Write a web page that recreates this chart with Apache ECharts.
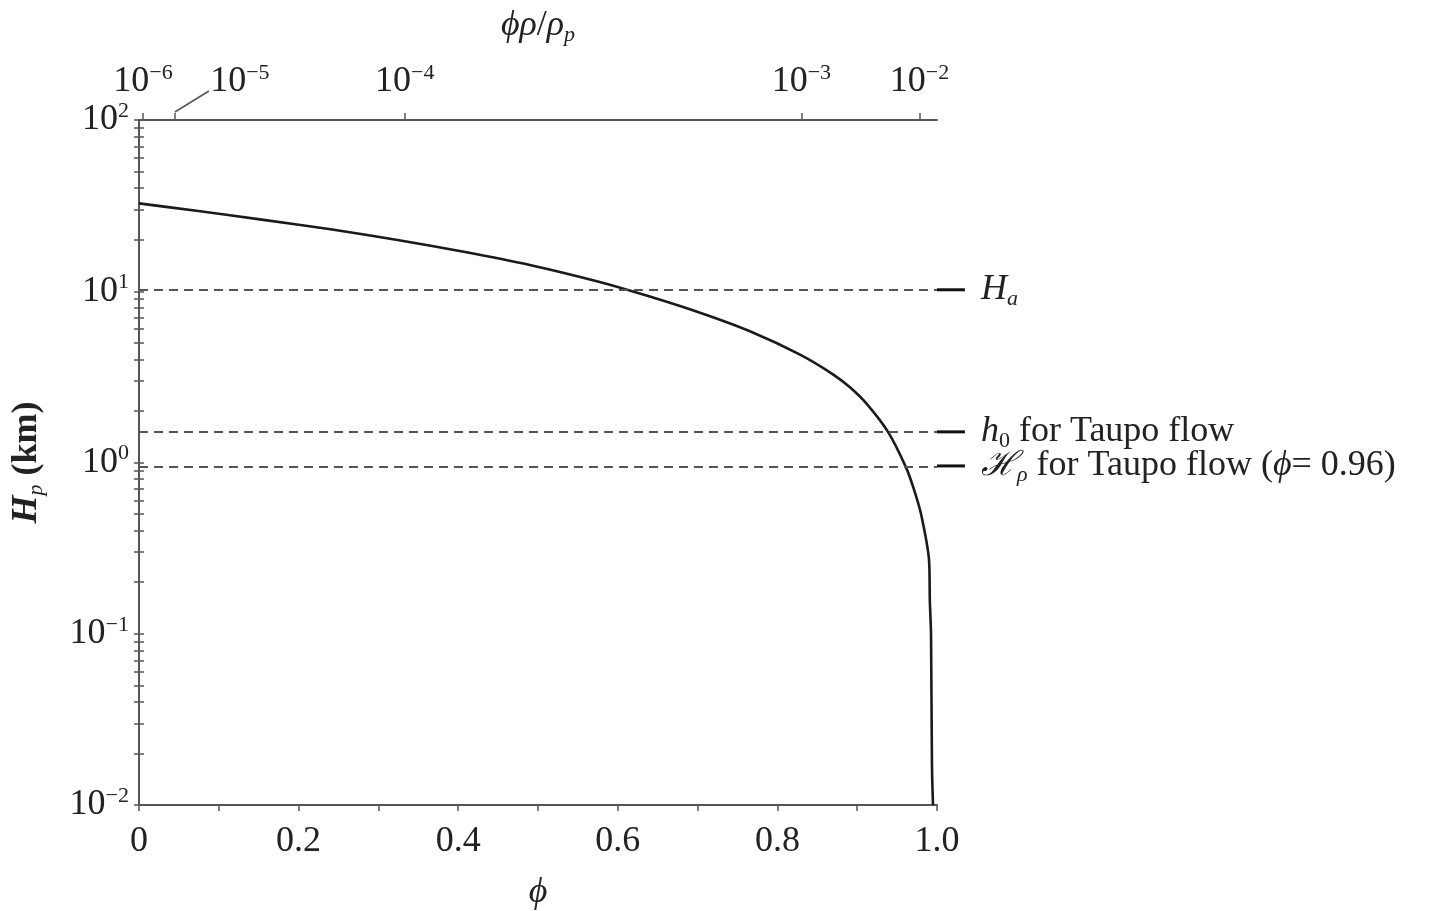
<!DOCTYPE html>
<html>
<head>
<meta charset="utf-8">
<script src="https://cdn.jsdelivr.net/npm/echarts@6/dist/echarts.min.js"></script>
<style>
  html, body { margin: 0; background: #fff; }
  #main { width: 1429px; height: 911px; }
</style>
</head>
<body>
<div id="main"></div>
<script>
// curve: phi vs H_p (km)
const phiData = [0, 0.072, 0.156, 0.240, 0.324, 0.407, 0.491, 0.575, 0.637, 0.704, 0.767, 0.829,
                 0.871, 0.892, 0.913, 0.939, 0.961, 0.971, 0.980, 0.990, 0.991, 0.9925, 0.9937, 0.995];
const hpData = [32.6, 29.5, 26.1, 23.0, 19.9, 17.0, 14.2, 11.4, 9.4, 7.46, 5.8, 4.25,
                3.24, 2.72, 2.17, 1.50, 0.94, 0.70, 0.50, 0.27, 0.157, 0.10, 0.0167, 0.01];

// reference heights (dashed lines) and their labels
const levelValues = [10.2, 1.51, 0.955];
const levelLabels = [
  '{hi|H}{sub|a}',
  '{hi|h}{subr|0} for Taupo flow',
  '{sc|ℋ}{sub|ρ} for Taupo flow ({hi|ϕ}= 0.96)'
];

// bottom axis
const phiTicks = [0, 0.2, 0.4, 0.6, 0.8, 1.0];
const phiLabels = ['0', '0.2', '0.4', '0.6', '0.8', '1.0'];
const phiMinor = [0, 0.1, 0.2, 0.3, 0.4, 0.5, 0.6, 0.7, 0.8, 0.9, 1.0];

// top axis: phi positions of phi*rho/rho_p decades
const topTickPhi = [0.005, 0.045, 0.333, 0.83, 0.978];
const topTickExp = ['−6', '−5', '−4', '−3', '−2'];
const leaderIndex = 1;   // 10^-5 label sits off to the side on a leader

// left axis decades
const decades = [0.01, 0.1, 1, 10, 100];
const decadeExp = ['−2', '−1', '0', '1', '2'];

const FONT = 'Liberation Serif';
const TXT = '#222';
const AX = '#555';

let logTicks = [];
decades.forEach(d => {
  logTicks.push(d);
  if (d < 100) for (let m = 2; m <= 9; m++) logTicks.push(+(d * m).toPrecision(3));
});

const rich = {
  sup: { fontFamily: FONT, fontSize: 22, lineHeight: 22, color: TXT, verticalAlign: 'top' },
  sub: { fontFamily: FONT, fontSize: 22, lineHeight: 22, color: TXT, verticalAlign: 'bottom', fontStyle: 'italic' },
  subr: { fontFamily: FONT, fontSize: 22, lineHeight: 22, color: TXT, verticalAlign: 'bottom' },
  hi: { fontFamily: FONT, fontSize: 36, lineHeight: 40, color: TXT, fontStyle: 'italic' },
  sc: { fontFamily: FONT, fontSize: 34, lineHeight: 40, color: TXT, fontStyle: 'italic' },
  bi: { fontFamily: FONT, fontSize: 36, lineHeight: 40, color: TXT, fontStyle: 'italic', fontWeight: 'bold' },
  b: { fontFamily: FONT, fontSize: 36, lineHeight: 40, color: TXT, fontWeight: 'bold' }
};

const topLabelValues = topTickPhi.filter((p, i) => i !== leaderIndex);

const chart = echarts.init(document.getElementById('main'));

chart.setOption({
  animation: false,
  backgroundColor: '#fff',
  textStyle: { fontFamily: FONT },
  grid: { left: 139, right: 492, top: 120, bottom: 106, containLabel: false, outerBoundsMode: 'none' },
  xAxis: [{
    type: 'value',
    position: 'bottom',
    min: 0, max: 1,
    name: 'ϕ',
    nameLocation: 'middle',
    nameGap: 70,
    nameTextStyle: { fontFamily: FONT, fontSize: 36, fontStyle: 'italic', color: TXT },
    axisLine: { lineStyle: { color: AX, width: 2 } },
    axisTick: { show: true, inside: false, length: 6, customValues: phiMinor, lineStyle: { color: AX, width: 1.5 } },
    axisLabel: {
      customValues: phiTicks,
      margin: 19,
      showMinLabel: true, showMaxLabel: true,
      fontFamily: FONT, fontSize: 36, color: TXT,
      formatter: v => phiLabels[phiTicks.findIndex(t => Math.abs(t - v) < 1e-6)]
    },
    splitLine: { show: false }
  }, {
    type: 'value',
    position: 'top',
    min: 0, max: 1,
    name: '{hi|ϕρ}/{hi|ρ}{sub|p}',
    nameLocation: 'middle',
    nameGap: 74,
    nameTextStyle: { fontFamily: FONT, fontSize: 36, lineHeight: 40, color: TXT, rich: rich },
    axisLine: { lineStyle: { color: AX, width: 2 } },
    axisTick: { show: true, length: 7, customValues: topTickPhi, lineStyle: { color: AX, width: 1.5 } },
    axisLabel: {
      customValues: topLabelValues,
      margin: 18,
      showMinLabel: true, showMaxLabel: true,
      fontFamily: FONT, fontSize: 36, lineHeight: 40, color: TXT,
      rich: rich,
      formatter: v => {
        const i = topTickPhi.findIndex(t => Math.abs(t - v) < 1e-6);
        return '10{sup|' + topTickExp[i] + '}';
      }
    },
    splitLine: { show: false }
  }],
  yAxis: [{
    type: 'log',
    logBase: 10,
    min: 0.01, max: 100,
    position: 'left',
    name: '{bi|H}{sub|p}{b| (km)}',
    nameLocation: 'middle',
    nameGap: 92,
    nameRotate: 90,
    nameTextStyle: { fontFamily: FONT, fontSize: 36, lineHeight: 40, color: TXT, rich: rich },
    axisLine: { show: true, lineStyle: { color: AX, width: 2 } },
    axisTick: { show: true, length: 5, customValues: logTicks, lineStyle: { color: AX, width: 1.5 } },
    axisLabel: {
      customValues: decades,
      margin: 10,
      showMinLabel: true, showMaxLabel: true,
      fontFamily: FONT, fontSize: 36, lineHeight: 40, color: TXT,
      rich: rich,
      formatter: v => {
        const i = decades.findIndex(d => Math.abs(Math.log10(d) - Math.log10(v)) < 1e-6);
        return '10{sup|' + decadeExp[i] + '}';
      }
    },
    splitLine: { show: false }
  }, {
    type: 'log',
    logBase: 10,
    min: 0.01, max: 100,
    position: 'right',
    axisLine: { show: true, lineStyle: { color: AX, width: 2 } },
    axisTick: { show: true, length: 5, customValues: logTicks, lineStyle: { color: AX, width: 1.5 } },
    axisLabel: { show: false },
    splitLine: { show: false }
  }],
  series: [{
    type: 'line',
    symbol: 'none',
    smooth: 0.25,
    data: phiData.map((p, i) => [p, hpData[i]]),
    lineStyle: { color: '#1a1a1a', width: 2.6 },
    markLine: {
      silent: true,
      symbol: 'none',
      label: { show: false },
      lineStyle: { color: '#555', width: 1.8, type: [9, 6] },
      data: levelValues.map(v => ({ yAxis: v }))
    }
  }, {
    // short solid stubs outside the right axis, with their labels
    type: 'custom',
    silent: true,
    clip: false,
    data: levelValues.map((v, i) => [1.0, v, i]),
    renderItem: (params, api) => {
      const p0 = api.coord([api.value(0), api.value(1)]);
      const p1 = api.coord([api.value(0) + 0.035, api.value(1)]);
      return {
        type: 'group',
        children: [{
          type: 'line',
          shape: { x1: p0[0], y1: p0[1], x2: p1[0], y2: p1[1] },
          style: { stroke: '#111', lineWidth: 3 }
        }, {
          type: 'text',
          x: p1[0] + 16,
          y: p1[1],
          style: {
            text: levelLabels[api.value(2)],
            rich: rich,
            fontFamily: FONT, fontSize: 36, lineHeight: 40,
            fill: TXT,
            align: 'left',
            verticalAlign: 'middle'
          }
        }]
      };
    }
  }]
});

// 10^-5 label placed beside its tick with a leader line
const tx = chart.convertToPixel({ xAxisIndex: 1 }, topTickPhi[leaderIndex]);
const ty = chart.convertToPixel({ yAxisIndex: 0 }, 100);
chart.setOption({
  graphic: [{
    type: 'line',
    silent: true,
    shape: { x1: tx, y1: ty - 8, x2: tx + 34, y2: ty - 29 },
    style: { stroke: AX, lineWidth: 1.5 }
  }, {
    type: 'text',
    silent: true,
    x: tx + 65,
    y: ty - 18,
    style: {
      text: '10{sup|' + topTickExp[leaderIndex] + '}',
      rich: rich,
      fontFamily: FONT, fontSize: 36, lineHeight: 40,
      fill: TXT,
      align: 'center',
      verticalAlign: 'bottom'
    }
  }]
});
</script>
</body>
</html>
